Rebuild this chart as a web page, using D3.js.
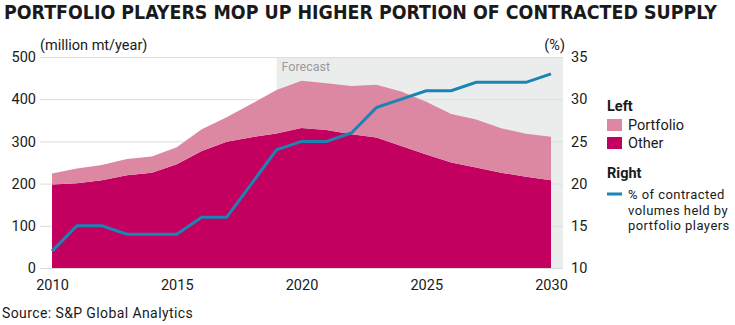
<!DOCTYPE html>
<html>
<head>
<meta charset="utf-8">
<script src="https://cdn.jsdelivr.net/npm/d3@7"></script>
<style>
  body { margin: 0; background: #fff; }
  text { font-family: "Roboto", "Noto Sans", sans-serif; fill: #1a1a1a; }
</style>
</head>
<body>
<div id="main"></div>
<script>
var years = d3.range(2010, 2031);
var other = [198, 201, 208, 220, 226, 246, 277, 299, 310, 319, 332, 327, 317, 309, 289, 269, 250, 238, 226, 216, 208];
var total = [224, 236, 244, 258, 264, 286, 329, 357, 389, 422, 444, 438, 431, 434, 418, 394, 365, 352, 331, 318, 311];
var portfolio = total.map(function(t, i) { return t - other[i]; });
var share = [12, 15, 15, 14, 14, 14, 16, 16, 20, 24, 25, 25, 26, 29, 30, 31, 31, 32, 32, 32, 33];
var leftTicks = [0, 100, 200, 300, 400, 500];
var rightTicks = [10, 15, 20, 25, 30, 35];
var xTicks = [2010, 2015, 2020, 2025, 2030];
var forecastStart = 2019;

var width = 735, height = 325;
var plotLeft = 40, plotRight = 563;

var svg = d3.select("#main").append("svg")
  .attr("width", width)
  .attr("height", height);

var x = d3.scaleLinear().domain([2010, 2030]).range([52, 551]);
var yL = d3.scaleLinear().domain([0, 500]).range([268, 57]);
var yR = d3.scaleLinear().domain([10, 35]).range([268, 57]);

// title
svg.append("text")
  .attr("x", 4)
  .attr("y", 19)
  .attr("textLength", 713)
  .attr("lengthAdjust", "spacingAndGlyphs")
  .style("font-family", "'Liberation Sans Narrow', 'DejaVu Sans Condensed', 'Roboto', sans-serif")
  .style("font-weight", "bold")
  .style("font-size", "19px")
  .text("PORTFOLIO PLAYERS MOP UP HIGHER PORTION OF CONTRACTED SUPPLY");

// forecast band
svg.append("rect")
  .attr("x", x(forecastStart))
  .attr("y", yL(500))
  .attr("width", plotRight - x(forecastStart))
  .attr("height", yL(0) - yL(500))
  .style("fill", "#ebeded");

svg.append("text")
  .attr("x", x(forecastStart) + 5)
  .attr("y", 71)
  .style("font-size", "12.5px")
  .style("fill", "#9a9a9a")
  .text("Forecast");

// gridlines
svg.append("g")
  .selectAll("line")
  .data(leftTicks)
  .enter()
  .append("line")
  .attr("x1", plotLeft)
  .attr("x2", plotRight)
  .attr("y1", function(d) { return yL(d) + 0.5; })
  .attr("y2", function(d) { return yL(d) + 0.5; })
  .style("stroke", "#dddddd")
  .style("stroke-width", 1);

var stackData = years.map(function(yr, i) {
  return { year: yr, other: other[i], portfolio: portfolio[i] };
});
var series = d3.stack().keys(["other", "portfolio"])(stackData);
var colors = { other: "#c30060", portfolio: "#dc88a2" };

var area = d3.area()
  .x(function(d) { return x(d.data.year); })
  .y0(function(d) { return yL(d[0]); })
  .y1(function(d) { return yL(d[1]); });

svg.append("g")
  .selectAll("path")
  .data(series)
  .enter()
  .append("path")
  .attr("d", area)
  .style("fill", function(d) { return colors[d.key]; });

var line = d3.line()
  .x(function(d, i) { return x(years[i]); })
  .y(function(d) { return yR(d); });

svg.append("path")
  .datum(share)
  .attr("d", line)
  .style("fill", "none")
  .style("stroke", "#1a84b3")
  .style("stroke-width", 3);

// axes
var axisL = svg.append("g")
  .attr("transform", "translate(36,0)")
  .call(d3.axisLeft(yL).tickValues(leftTicks).tickSize(0).tickPadding(0));
var axisR = svg.append("g")
  .attr("transform", "translate(571,0)")
  .call(d3.axisRight(yR).tickValues(rightTicks).tickSize(0).tickPadding(0));
var axisB = svg.append("g")
  .attr("transform", "translate(0,277)")
  .call(d3.axisBottom(x).tickValues(xTicks).tickFormat(d3.format("d")).tickSize(0).tickPadding(0));

[axisL, axisR, axisB].forEach(function(a) {
  a.select(".domain").remove();
  a.selectAll("text")
    .style("font-family", "'Roboto', 'Noto Sans', sans-serif")
    .style("font-size", "14.5px")
    .style("fill", "#1a1a1a");
});
axisB.selectAll("text").attr("dy", "0.9em");

svg.append("text")
  .attr("x", 40).attr("y", 50)
  .style("font-size", "14.5px")
  .text("(million mt/year)");
svg.append("text")
  .attr("x", 565).attr("y", 50)
  .attr("text-anchor", "end")
  .style("font-size", "14.5px")
  .text("(%)");

// legend
var lg = svg.append("g").attr("transform", "translate(607,0)");
lg.append("text").attr("x", 0).attr("y", 111)
  .style("font-size", "14.5px").style("font-weight", "bold").text("Left");
var legItems = [{ key: "portfolio", label: "Portfolio", y: 125 }, { key: "other", label: "Other", y: 143 }];
legItems.forEach(function(it) {
  lg.append("rect").attr("x", 0).attr("y", it.y - 6).attr("width", 15).attr("height", 12)
    .style("fill", colors[it.key]);
  lg.append("text").attr("x", 21).attr("y", it.y + 5)
    .style("font-size", "14.5px").text(it.label);
});
lg.append("text").attr("x", 0).attr("y", 178)
  .style("font-size", "14.5px").style("font-weight", "bold").text("Right");
lg.append("line").attr("x1", 0).attr("x2", 15).attr("y1", 194).attr("y2", 194)
  .style("stroke", "#1a84b3").style("stroke-width", 3);
["% of contracted", "volumes held by", "portfolio players"].forEach(function(t, i) {
  lg.append("text").attr("x", 21).attr("y", 199 + i * 15.5)
    .style("font-size", "13px")
    .style("letter-spacing", "0.45px")
    .text(t);
});

svg.append("text")
  .attr("x", 2).attr("y", 318)
  .style("font-size", "14px")
  .style("letter-spacing", "0.4px")
  .text("Source: S&P Global Analytics");
</script>
</body>
</html>
